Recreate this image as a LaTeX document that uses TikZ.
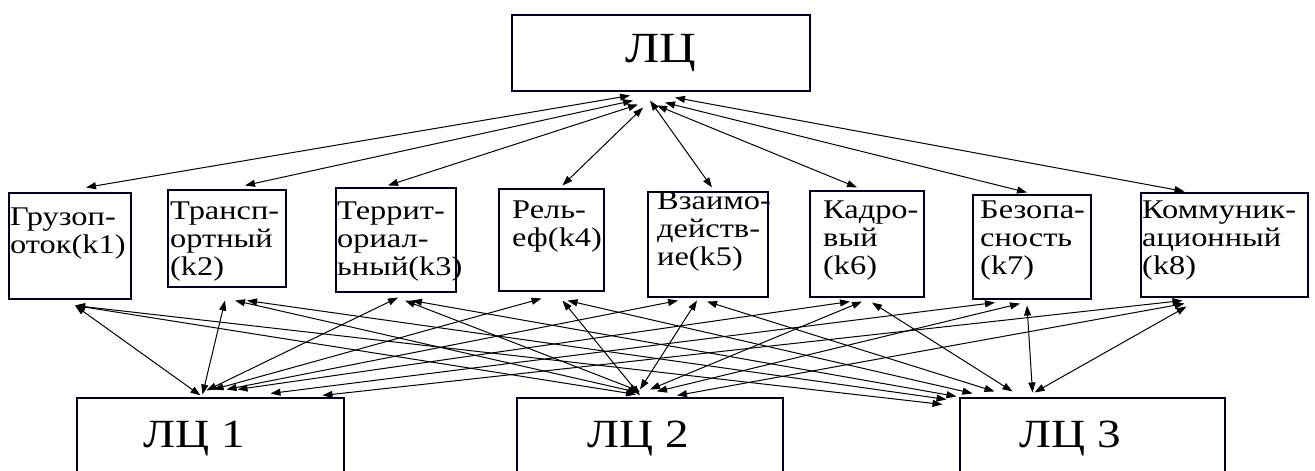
\documentclass[tikz,border=0pt]{standalone}
\usepackage{fontspec}
\setmainfont{Liberation Serif}
\newfontfamily\critfont[FakeStretch=1.2]{Liberation Serif}
\newfontfamily\bigfont[FakeStretch=1.18]{Liberation Serif}
\usetikzlibrary{arrows.meta,calc}

\begin{document}
\begin{tikzpicture}[x=1pt, y=-1pt,
    box/.style={rectangle, draw=black!85!blue, line width=1.1pt, inner sep=0pt},
    crit/.style={anchor=base west, inner sep=0pt, text width=170pt, align=left, font=\critfont\fontsize{27}{28}\selectfont},
    big/.style={anchor=base, inner sep=0pt, font=\bigfont\fontsize{40}{42}\selectfont},
    link/.style={{Triangle[length=10pt,width=7pt]}-{Triangle[length=10pt,width=7pt]}, line width=1pt}
  ]
    \path[use as bounding box, clip] (0,0) rectangle (1315,471);

    % top level
    \node[box, minimum width=298, minimum height=76, font=\bigfont\fontsize{43}{45}\selectfont] (lc) at (661,53) {ЛЦ};

    % criteria
    \node[box, minimum width=122, minimum height=106] (k1) at (70,246) {};
    \node[box, minimum width=118, minimum height=97] (k2) at (227,238.5) {};
    \node[box, minimum width=120, minimum height=104] (k3) at (396,240) {};
    \node[box, minimum width=105, minimum height=102] (k4) at (551.5,240) {};
    \node[box, minimum width=120, minimum height=105] (k5) at (708,244.5) {};
    \node[box, minimum width=114, minimum height=106] (k6) at (867,244) {};
    \node[box, minimum width=118, minimum height=104] (k7) at (1032,247) {};
    \node[box, minimum width=167, minimum height=104] (k8) at (1224.5,245) {};

    \node[crit] (t1) at (10,225) {Грузоп-\\оток(k1)};
    \node[crit] (t2) at (170,219) {Трансп-\\ортный\\(k2)};
    \node[crit] (t3) at (337,219) {Террит-\\ориал-\\ьный(k3)};
    \node[crit] (t4) at (512,218) {Рель-\\еф(k4)};
    \node[crit] (t5) at (657,209) {Взаимо-\\действ-\\ие(k5)};
    \node[crit] (t6) at (823,218) {Кадро-\\вый\\(k6)};
    \node[crit] (t7) at (980,218) {Безопа-\\сность\\(k7)};
    \node[crit] (t8) at (1142,218) {Коммуник-\\ационный\\(k8)};

    % alternatives
    \node[box, minimum width=267, minimum height=76] (lc1) at (210.5,436) {};
    \node[box, minimum width=266, minimum height=76] (lc2) at (650,436) {};
    \node[box, minimum width=265, minimum height=76] (lc3) at (1092.5,436) {};
    \node[big] (lc1t) at (194,447) {ЛЦ 1};
    \node[big] (lc2t) at (638,447) {ЛЦ 2};
    \node[big] (lc3t) at (1070,447) {ЛЦ 3};

    % top links
    \foreach \k/\ax/\ay/\bx/\by in {1/-31/4/16/-5, 2/-28/9/18/-4, 3/-23/13/-8/-2, 4/-18/16/11/-3,
        5/-11/9/4/-4, 6/-4/14/-10/-3, 7/4/11/-5/-2, 8/14/6/-40/-1}
      \draw[link] ($(lc.south)+(\ax,\ay)$) -- ($(k\k.north)+(\bx,\by)$);

    % bottom links
    \foreach \i/\k/\ax/\ay/\bx/\by in {
        1/1/-10/-2/5/6, 1/2/-8/-3/-2/13, 1/3/-4/-7/2/5, 1/4/3/-8/-10/7,
        1/5/16/-8/-30/3, 1/6/27/-8/-17/4, 1/7/60/-4/-37/3, 1/8/112/-2/-42/3,
        2/1/-14/-3/5/6, 2/2/-12/-5/8/13, 2/3/-10/-6/9/8, 2/4/-10/-2/11/9,
        2/5/-10/-8/-11/3, 2/6/0/-8/-5/4, 2/7/7/-6/-12/4, 2/8/27/-2/-40/6,
        3/1/-150/7/5/6, 3/2/-146/2/20/13, 3/3/-136/-1/16/8, 3/4/-120/-4/16/9,
        3/5/-98/-6/-1/4, 3/6/-80/-6/5/5, 3/7/-60/-5/-5/6, 3/8/-58/-5/-38/9}
      \draw[link] ($(lc\i.north)+(\ax,\ay)$) -- ($(k\k.south)+(\bx,\by)$);
\end{tikzpicture}
\end{document}
